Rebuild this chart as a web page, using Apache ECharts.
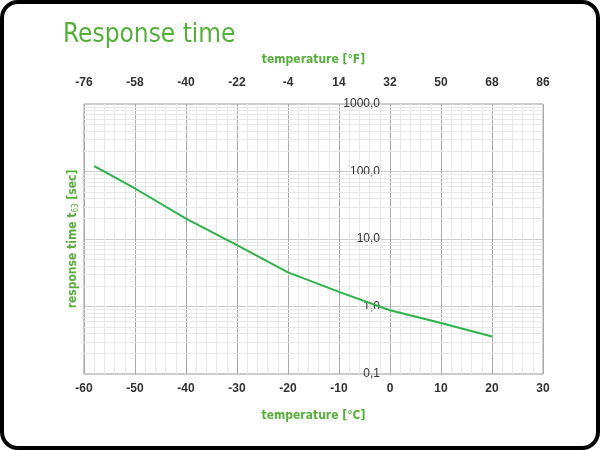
<!DOCTYPE html>
<html style="height: 100%">
<head>
    <meta charset="utf-8">
    <script type="text/javascript" src="https://cdn.jsdelivr.net/npm/echarts@6/dist/echarts.min.js"></script>
</head>
<body style="height: 100%; margin: 0; background: #fff">
<div id="frame" style="width: 600px; height: 450px; box-sizing: border-box; border: 4px solid #000; border-radius: 18px; position: absolute; top: 0; left: 0; overflow: hidden;">
    <div id="container" style="width: 592px; height: 442px; position: absolute; top: 0; left: 0;"></div>
</div>
<script type="text/javascript">
    // temperature in °C and response time t63 in seconds
    var tempC = [-58, -50, -40, -30, -20, -10, 0, 10, 20];
    var respTime = [120, 56, 20, 8.1, 3.2, 1.65, 0.88, 0.57, 0.36];
    // light log grid lines between the decades
    var minorY = [0.2, 0.3, 0.4, 0.5, 0.6, 0.7, 0.8, 0.9,
                  2, 3, 4, 5, 6, 7, 8, 9,
                  20, 30, 40, 50, 60, 70, 80, 90,
                  200, 300, 400, 500, 600, 700, 800, 900];

    var green = '#55b03a';
    var dom = document.getElementById("container");
    var myChart = echarts.init(dom);

    var points = [];
    for (var i = 0; i < tempC.length; i++) {
        points.push([tempC[i], respTime[i]]);
    }
    var minorLines = [];
    for (var j = 0; j < minorY.length; j++) {
        minorLines.push({yAxis: minorY[j]});
    }

    function comma(v) {
        return v.toFixed(1).replace('.', ',');
    }

    var nameFont = {color: green, fontSize: 12, fontWeight: 'bold', fontFamily: 'DejaVu Sans Condensed'};

    var option = {
        animation: false,
        title: {
            text: 'Response time',
            left: 54,
            top: 13,
            textStyle: {
                color: green,
                fontFamily: 'DejaVu Sans Condensed',
                fontWeight: 'normal',
                fontSize: 26
            }
        },
        grid: {
            left: 80,
            right: 53,
            top: 100,
            bottom: 72,
            show: true,
            borderColor: '#999',
            borderWidth: 1,
            containLabel: false
        },
        xAxis: [
            {
                type: 'value',
                position: 'bottom',
                min: -60,
                max: 30,
                interval: 10,
                name: 'temperature [°C]',
                nameLocation: 'middle',
                nameGap: 36,
                nameTextStyle: nameFont,
                axisLine: {show: false},
                axisTick: {show: false},
                axisLabel: {color: '#333', fontWeight: 'bold', fontSize: 12, fontFamily: 'Liberation Sans', margin: 9},
                splitLine: {show: true, lineStyle: {color: '#aaa', width: 1}},
                minorTick: {show: false, splitNumber: 5},
                minorSplitLine: {show: true, lineStyle: {color: '#e8e8e8', width: 1}}
            },
            {
                type: 'value',
                position: 'top',
                min: -60,
                max: 30,
                interval: 10,
                name: 'temperature [°F]',
                nameLocation: 'middle',
                nameGap: 38,
                nameTextStyle: nameFont,
                axisLine: {show: false},
                axisTick: {show: false},
                axisLabel: {
                    color: '#333', fontWeight: 'bold', fontSize: 12, fontFamily: 'Liberation Sans', margin: 15,
                    formatter: function (c) { return Math.round(c * 9 / 5 + 32); }
                },
                splitLine: {show: false}
            }
        ],
        yAxis: [
            {
                type: 'log',
                logBase: 10,
                min: 0.1,
                max: 1000,
                position: 'left',
                name: '{a|response time t}{b|63}{a| [sec]}',
                nameLocation: 'middle',
                nameGap: 4,
                nameTextStyle: {
                    rich: {
                        a: nameFont,
                        b: {color: green, fontSize: 8, fontFamily: 'DejaVu Sans Condensed', verticalAlign: 'bottom', padding: [6, 0, 0, 0]}
                    }
                },
                axisLine: {show: false},
                axisTick: {show: false},
                axisLabel: {show: false},
                splitLine: {show: true, lineStyle: {color: '#ccc', width: 1}}
            },
            {
                type: 'log',
                logBase: 10,
                min: 0.1,
                max: 1000,
                position: 'left',
                offset: -306,
                axisLine: {show: false},
                axisTick: {show: false},
                axisLabel: {
                    color: '#333', fontSize: 12, fontFamily: 'Liberation Sans', margin: 10,
                    formatter: comma
                },
                splitLine: {show: false}
            }
        ],
        series: [
            {
                type: 'line',
                data: [],
                z: 1,
                silent: true,
                markLine: {
                    silent: true,
                    z: 1,
                    symbol: 'none',
                    label: {show: false},
                    lineStyle: {color: '#e8e8e8', width: 1, type: 'solid'},
                    data: minorLines
                }
            },
            {
                name: 'response time',
                type: 'line',
                z: 3,
                data: points,
                symbol: 'none',
                lineStyle: {color: '#2db34a', width: 2}
            }
        ]
    };
    myChart.setOption(option, true);
</script>
</body>
</html>
